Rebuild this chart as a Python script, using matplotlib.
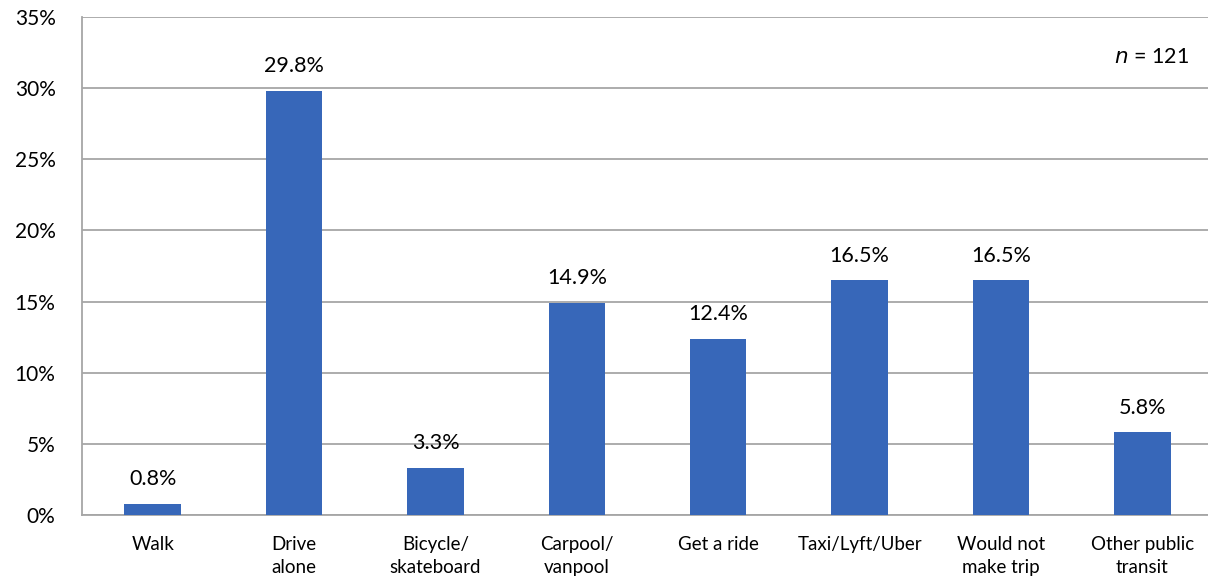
import numpy as np
import matplotlib.pyplot as plt

plt.rcParams['font.family'] = ['Lato', 'DejaVu Sans']

categories = ['Walk', 'Drive\nalone', 'Bicycle/\nskateboard', 'Carpool/\nvanpool',
              'Get a ride', 'Taxi/Lyft/Uber', 'Would not\nmake trip', 'Other public\ntransit']
shares = [0.8, 29.8, 3.3, 14.9, 12.4, 16.5, 16.5, 5.8]
yticks = [0, 5, 10, 15, 20, 25, 30, 35]

fig = plt.figure(figsize=(12.08, 5.84), dpi=100)
# plot area runs a little past the right edge of the picture, as in the source
ax = fig.add_axes([82/1208, 69/584, 1131/1208, 498/584])

x = np.arange(len(categories))
bars = ax.bar(x, shares, width=0.40, color='#3767B9', zorder=3)
for xi, v in zip(x, shares):
    ax.annotate(f'{v:.1f}%', (xi, v), xytext=(0, 10.5), textcoords='offset points',
                ha='center', va='bottom', fontsize=15.5)

ax.set_xlim(-0.5, len(categories) - 0.5)
ax.set_ylim(0, 35)
ax.set_yticks(yticks)
ax.set_yticklabels([f'{t}%' for t in yticks], fontsize=15)
ax.set_xticks(x)
ax.set_xticklabels(categories, fontsize=13.5, linespacing=1.45, va='top')
ax.tick_params(axis='both', length=0)
ax.tick_params(axis='y', pad=19)
ax.tick_params(axis='x', pad=15)

ax.grid(axis='y', color='#A6A6A6', linewidth=1.3, zorder=0)
for s in ['top', 'right']:
    ax.spines[s].set_visible(False)
ax.spines['left'].set_color('#A6A6A6')
ax.spines['left'].set_linewidth(1.3)
ax.spines['bottom'].set_color('#A6A6A6')
ax.spines['bottom'].set_linewidth(1.3)

ax.text(0.979, 0.92, r'$n$ = 121', transform=ax.transAxes, ha='right', va='center',
        fontsize=15.5)

plt.savefig('out.png', dpi=100)
